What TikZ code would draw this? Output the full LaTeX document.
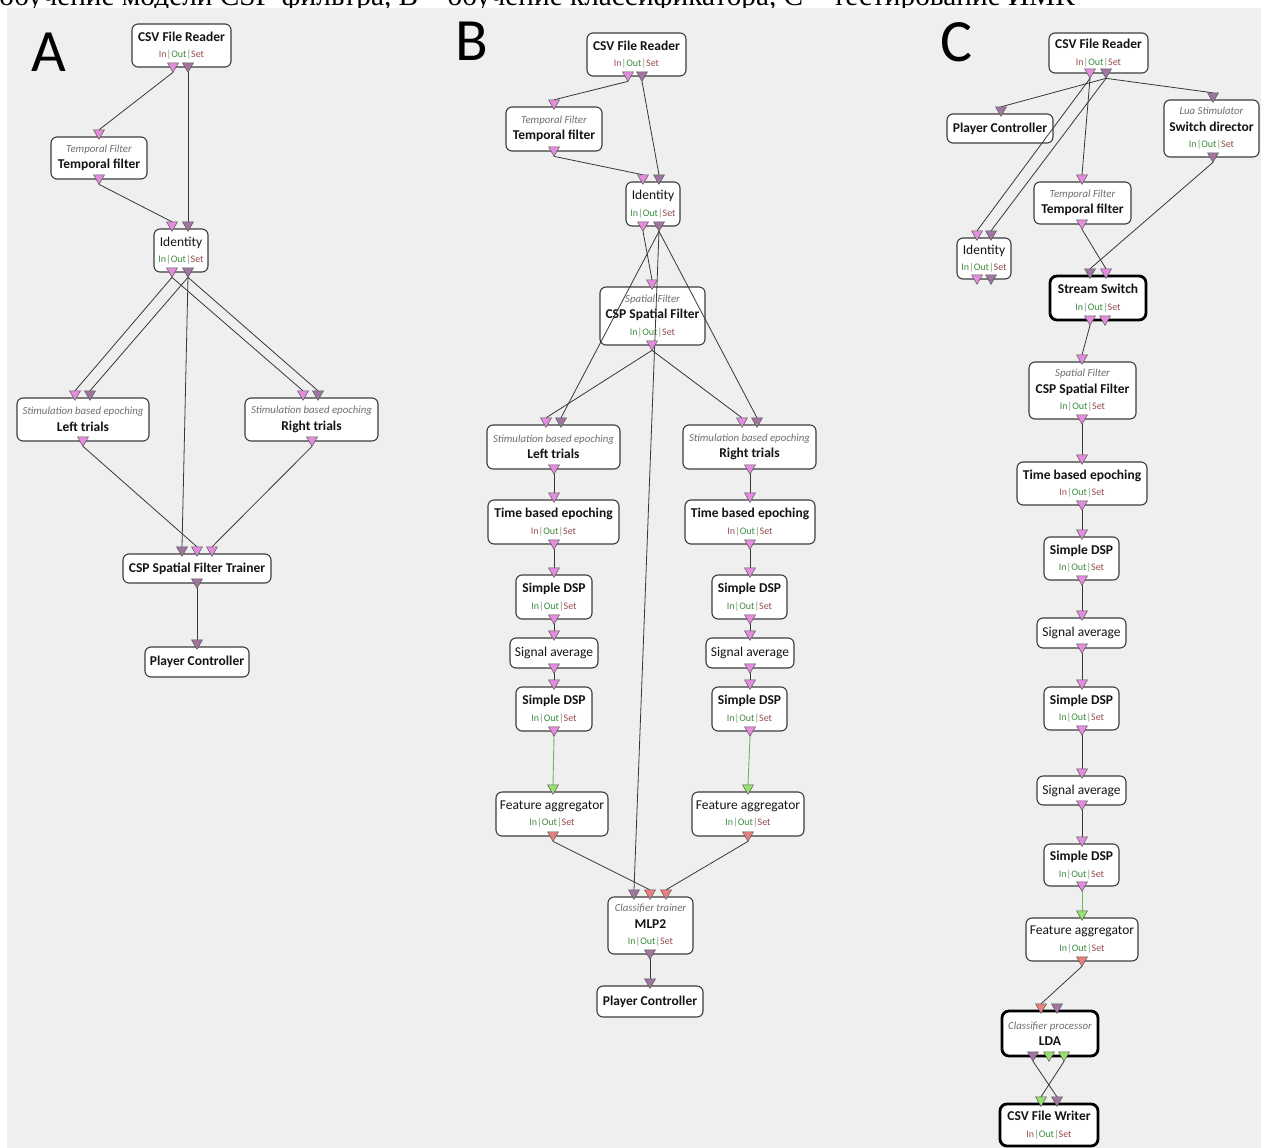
\documentclass[tikz,border=0pt]{standalone}
\usepackage{fontspec}
\setmainfont{Carlito}
\newfontfamily\capfont{Liberation Serif}
\usetikzlibrary{shapes.geometric}
\pgfdeclarelayer{bg}\pgfdeclarelayer{boxes}\pgfdeclarelayer{edges}
\pgfsetlayers{bg,boxes,edges,main}
\definecolor{bgc}{RGB}{239,239,239}
\definecolor{pinkp}{RGB}{228,140,222}
\definecolor{purp}{RGB}{160,118,160}
\definecolor{greenp}{RGB}{150,225,110}
\definecolor{salp}{RGB}{232,128,128}
\definecolor{portb}{RGB}{90,90,90}
\definecolor{boxc}{RGB}{60,60,60}
\definecolor{edgec}{RGB}{55,55,55}
\definecolor{gedgec}{RGB}{110,185,85}
\definecolor{kindc}{RGB}{110,110,110}
\definecolor{titc}{RGB}{20,20,20}
\definecolor{inb}{RGB}{160,80,90}
\definecolor{ing}{RGB}{70,140,70}
\definecolor{outc}{RGB}{60,140,60}
\definecolor{setc}{RGB}{150,75,75}
\definecolor{sepc}{RGB}{120,150,120}
\newcommand{\knd}[1]{{\itshape\color{kindc}\fontsize{10.8}{16.5}\selectfont #1}}
\newcommand{\tit}[1]{{\bfseries\color{titc}\fontsize{13.5}{16.5}\selectfont #1}}
\newcommand{\rgl}[1]{{\color{titc}\fontsize{13.5}{16.5}\selectfont #1}}
\newcommand{\iob}{{\fontsize{10}{16.5}\selectfont\textcolor{inb}{In}\textcolor{sepc}{|}\textcolor{outc}{Out}\textcolor{sepc}{|}\textcolor{setc}{Set}}}
\newcommand{\iog}{{\fontsize{10}{16.5}\selectfont\textcolor{ing}{In}\textcolor{sepc}{|}\textcolor{outc}{Out}\textcolor{sepc}{|}\textcolor{setc}{Set}}}
\newcommand{\bx}[7][box]{\node[#1, minimum width={#5-#3}, minimum height={#6-#4}] (#2) at ({(#3+#5)/2},{(#4+#6)/2}) {#7};}
\newcommand{\pin}[4]{\node[port,fill=#4] (#1) at (#2,{#3-4}) {};}
\newcommand{\pout}[4]{\node[port,fill=#4] (#1) at (#2,{#3-1}) {};}
\newcommand{\cn}[3][edge]{\draw[#1] (#2.corner 1) -- (#3.side 2);}
\begin{document}
\begin{tikzpicture}[x=1pt,y=-1pt,
  box/.style={draw=boxc, fill=white, rounded corners=6pt, line width=1.1pt, inner sep=0pt, outer sep=0pt, align=center, font=\fontsize{9}{16.5}\selectfont},
  tbox/.style={box, draw=black, line width=2.8pt, rounded corners=7pt},
  port/.style={regular polygon, regular polygon sides=3, shape border rotate=180, minimum size=12.7pt, inner sep=0pt, outer sep=0pt, draw=portb, line width=0.5pt},
  edge/.style={draw=edgec, line width=0.8pt},
  gedge/.style={draw=gedgec, line width=0.9pt},
  lbl/.style={font=\fontsize{60}{60}\selectfont, inner sep=0pt}]
\useasboundingbox (0,0) rectangle (1261,1148);
\begin{pgfonlayer}{bg}
\fill[white] (0,0) rectangle (1261,1148);
\fill[bgc] (7,8) rectangle (1261,1148);
\end{pgfonlayer}
\begin{scope}
\clip (0,0) rectangle (1261,8);
\node[anchor=base east, font=\capfont\fontsize{29.3}{29.3}\selectfont, inner sep=0pt] (cap) at (1075,5.5) {обучение модели CSP-фильтра, B – обучение классификатора, C – тестирование ИМК};
\end{scope}
\node[lbl] (labA) at (49,52) {A};
\node[lbl] (labB) at (472,41) {B};
\node[lbl] (labC) at (956,42) {C};
\begin{pgfonlayer}{boxes}
% Panel A
\bx{aR}{132}{24}{231}{67}{\tit{CSV File Reader}\\\iob}
\bx{aT}{51}{137}{147}{179}{\knd{Temporal Filter}\\\tit{Temporal filter}}
\bx{aI}{154}{229}{208}{272}{\rgl{Identity}\\\iog}
\bx{aL}{17}{398}{149}{441}{\knd{Stimulation based epoching}\\\tit{Left trials}}
\bx{aRt}{245}{398}{378}{441}{\knd{Stimulation based epoching}\\\tit{Right trials}}
\bx{aC}{123}{554}{271}{583}{\tit{CSP Spatial Filter Trainer}}
\bx{aP}{145}{647}{249}{677}{\tit{Player Controller}}
% Panel B
\bx{bR}{587}{33}{686}{76}{\tit{CSV File Reader}\\\iob}
\bx{bT}{506}{107}{602}{151}{\knd{Temporal Filter}\\\tit{Temporal filter}}
\bx{bI}{626}{182}{680}{226}{\rgl{Identity}\\\iog}
\bx{bS}{600}{287}{705}{345}{\knd{Spatial Filter}\\\tit{CSP Spatial Filter}\\\iog}
\bx{bL}{487}{425}{620}{469}{\knd{Stimulation based epoching}\\\tit{Left trials}}
\bx{bRt}{683}{425}{816}{469}{\knd{Stimulation based epoching}\\\tit{Right trials}}
\bx{bE1}{488}{500}{619}{544}{\tit{Time based epoching}\\\iob}
\bx{bE2}{685}{500}{815}{544}{\tit{Time based epoching}\\\iob}
\bx{bD1}{516}{575}{592}{619}{\tit{Simple DSP}\\\iog}
\bx{bD2}{712}{575}{787}{619}{\tit{Simple DSP}\\\iog}
\bx{bA1}{510}{638}{598}{668}{\rgl{Signal average}}
\bx{bA2}{706}{638}{794}{668}{\rgl{Signal average}}
\bx{bF1}{516}{687}{592}{731}{\tit{Simple DSP}\\\iog}
\bx{bF2}{712}{687}{787}{731}{\tit{Simple DSP}\\\iog}
\bx{bG1}{496}{792}{608}{836}{\rgl{Feature aggregator}\\\iog}
\bx{bG2}{692}{792}{804}{836}{\rgl{Feature aggregator}\\\iog}
\bx{bM}{608}{897}{693}{954}{\knd{Classifier trainer}\\\tit{MLP2}\\\iog}
\bx{bP}{597}{986}{703}{1017}{\tit{Player Controller}}
% Panel C
\bx{cR}{1049}{33}{1148}{73}{\tit{CSV File Reader}\\\iob}
\bx{cP}{947}{114}{1053}{143}{\tit{Player Controller}}
\bx{cW}{1164}{100}{1259}{157}{\knd{Lua Stimulator}\\\tit{Switch director}\\\iog}
\bx{cT}{1034}{182}{1131}{224}{\knd{Temporal Filter}\\\tit{Temporal filter}}
\bx{cI}{957}{238}{1011}{279}{\rgl{Identity}\\\iog}
\bx[tbox]{cS}{1050}{276}{1146}{320}{\tit{Stream Switch}\\\iog}
\bx{cF}{1029}{362}{1136}{419}{\knd{Spatial Filter}\\\tit{CSP Spatial Filter}\\\iog}
\bx{cE}{1017}{462}{1147}{505}{\tit{Time based epoching}\\\iob}
\bx{cD1}{1044}{537}{1119}{580}{\tit{Simple DSP}\\\iog}
\bx{cA1}{1037}{618}{1126}{648}{\rgl{Signal average}}
\bx{cD2}{1044}{687}{1119}{730}{\tit{Simple DSP}\\\iog}
\bx{cA2}{1037}{776}{1126}{805}{\rgl{Signal average}}
\bx{cD3}{1044}{844}{1119}{886}{\tit{Simple DSP}\\\iog}
\bx{cG}{1026}{918}{1138}{961}{\rgl{Feature aggregator}\\\iog}
\bx[tbox]{cL}{1002}{1011}{1098}{1056}{\knd{Classifier processor}\\\tit{LDA}}
\bx[tbox]{cWr}{1000}{1104}{1098}{1146}{\tit{CSV File Writer}\\\iob}
\end{pgfonlayer}
% ports A
\pout{aRo1}{173}{67}{pinkp}\pout{aRo2}{188}{67}{purp}
\pin{aTi}{99}{137}{pinkp}\pout{aTo}{99}{179}{pinkp}
\pin{aIi1}{172}{229}{pinkp}\pin{aIi2}{188}{229}{purp}\pout{aIo1}{172}{272}{pinkp}\pout{aIo2}{188}{272}{purp}
\pin{aLi1}{75}{398}{pinkp}\pin{aLi2}{90}{398}{purp}\pout{aLo}{83}{441}{pinkp}
\pin{aRti1}{303}{398}{pinkp}\pin{aRti2}{318}{398}{purp}\pout{aRto}{312}{441}{pinkp}
\pin{aCi1}{182}{554}{purp}\pin{aCi2}{197}{554}{pinkp}\pin{aCi3}{212}{554}{pinkp}\pout{aCo}{197}{583}{purp}
\pin{aPi}{197}{647}{purp}
% ports B
\pout{bRo1}{628}{76}{pinkp}\pout{bRo2}{642}{76}{purp}
\pin{bTi}{554}{107}{pinkp}\pout{bTo}{554}{151}{pinkp}
\pin{bIi1}{643}{182}{pinkp}\pin{bIi2}{659}{182}{purp}\pout{bIo1}{643}{226}{pinkp}\pout{bIo2}{659}{226}{purp}
\pin{bSi}{652}{287}{pinkp}\pout{bSo}{652}{345}{pinkp}
\pin{bLi1}{546}{425}{pinkp}\pin{bLi2}{561}{425}{purp}\pout{bLo}{554}{469}{pinkp}
\pin{bRti1}{742}{425}{pinkp}\pin{bRti2}{757}{425}{purp}\pout{bRto}{750}{469}{pinkp}
\pin{bE1i}{554}{500}{pinkp}\pout{bE1o}{554}{544}{pinkp}
\pin{bE2i}{750}{500}{pinkp}\pout{bE2o}{750}{544}{pinkp}
\pin{bD1i}{554}{575}{pinkp}\pout{bD1o}{554}{619}{pinkp}
\pin{bD2i}{750}{575}{pinkp}\pout{bD2o}{750}{619}{pinkp}
\pin{bA1i}{554}{638}{pinkp}\pout{bA1o}{554}{668}{pinkp}
\pin{bA2i}{750}{638}{pinkp}\pout{bA2o}{750}{668}{pinkp}
\pin{bF1i}{554}{687}{pinkp}\pout{bF1o}{554}{731}{pinkp}
\pin{bF2i}{750}{687}{pinkp}\pout{bF2o}{750}{731}{pinkp}
\pin{bG1i}{553}{792}{greenp}\pout{bG1o}{553}{836}{salp}
\pin{bG2i}{748}{792}{greenp}\pout{bG2o}{748}{836}{salp}
\pin{bMi1}{634}{897}{purp}\pin{bMi2}{650}{897}{salp}\pin{bMi3}{666}{897}{salp}\pout{bMo}{650}{954}{purp}
\pin{bPi}{650}{986}{purp}
% ports C
\pout{cRo1}{1090}{73}{pinkp}\pout{cRo2}{1106}{73}{purp}
\pin{cPi}{1001}{114}{purp}
\pin{cWi}{1213}{100}{purp}\pout{cWo}{1213}{157}{purp}
\pin{cTi}{1082}{182}{pinkp}\pout{cTo}{1082}{224}{pinkp}
\pin{cIi1}{977}{238}{pinkp}\pin{cIi2}{991}{238}{purp}\pout{cIo1}{977}{279}{pinkp}\pout{cIo2}{991}{279}{purp}
\pin{cSi1}{1090}{276}{purp}\pin{cSi2}{1106}{276}{pinkp}\pout{cSo1}{1090}{320}{pinkp}\pout{cSo2}{1105}{320}{pinkp}
\pin{cFi}{1082}{362}{pinkp}\pout{cFo}{1082}{419}{pinkp}
\pin{cEi}{1082}{462}{pinkp}\pout{cEo}{1082}{505}{pinkp}
\pin{cD1i}{1082}{537}{pinkp}\pout{cD1o}{1082}{580}{pinkp}
\pin{cA1i}{1082}{618}{pinkp}\pout{cA1o}{1082}{648}{pinkp}
\pin{cD2i}{1082}{687}{pinkp}\pout{cD2o}{1082}{730}{pinkp}
\pin{cA2i}{1082}{776}{pinkp}\pout{cA2o}{1082}{805}{pinkp}
\pin{cD3i}{1082}{844}{pinkp}\pout{cD3o}{1082}{886}{pinkp}
\pin{cGi}{1082}{918}{greenp}\pout{cGo}{1082}{961}{salp}
\pin{cLi1}{1041}{1011}{salp}\pin{cLi2}{1057}{1011}{purp}
\pout{cLo1}{1033}{1056}{purp}\pout{cLo2}{1049}{1056}{greenp}\pout{cLo3}{1064}{1056}{greenp}
\pin{cWri1}{1041}{1104}{greenp}\pin{cWri2}{1057}{1104}{purp}
\begin{pgfonlayer}{edges}
% A
\cn{aRo1}{aTi}\cn{aRo2}{aIi2}\cn{aTo}{aIi1}
\cn{aIo1}{aLi1}\cn{aIo1}{aRti1}\cn{aIo2}{aLi2}\cn{aIo2}{aRti2}\cn{aIo2}{aCi1}
\cn{aLo}{aCi2}\cn{aRto}{aCi3}\cn{aCo}{aPi}
% B
\cn{bRo1}{bTi}\cn{bRo2}{bIi2}\cn{bTo}{bIi1}
\cn{bIo1}{bSi}\cn{bIo2}{bLi2}\cn{bIo2}{bRti2}\cn{bIo2}{bMi1}
\cn{bSo}{bLi1}\cn{bSo}{bRti1}
\cn{bLo}{bE1i}\cn{bE1o}{bD1i}\cn{bD1o}{bA1i}\cn{bA1o}{bF1i}\cn[gedge]{bF1o}{bG1i}\cn{bG1o}{bMi2}
\cn{bRto}{bE2i}\cn{bE2o}{bD2i}\cn{bD2o}{bA2i}\cn{bA2o}{bF2i}\cn[gedge]{bF2o}{bG2i}\cn{bG2o}{bMi3}
\cn{bMo}{bPi}
% C
\cn{cRo1}{cTi}\cn{cRo1}{cIi1}\cn{cRo2}{cIi2}\cn{cRo2}{cPi}\cn{cRo2}{cWi}
\cn{cTo}{cSi2}\cn{cWo}{cSi1}
\cn{cSo1}{cFi}\cn{cFo}{cEi}\cn{cEo}{cD1i}\cn{cD1o}{cA1i}\cn{cA1o}{cD2i}\cn{cD2o}{cA2i}\cn{cA2o}{cD3i}
\cn[gedge]{cD3o}{cGi}\cn{cGo}{cLi1}\cn{cLo1}{cWri2}\cn{cLo3}{cWri1}
\end{pgfonlayer}
\end{tikzpicture}
\end{document}
